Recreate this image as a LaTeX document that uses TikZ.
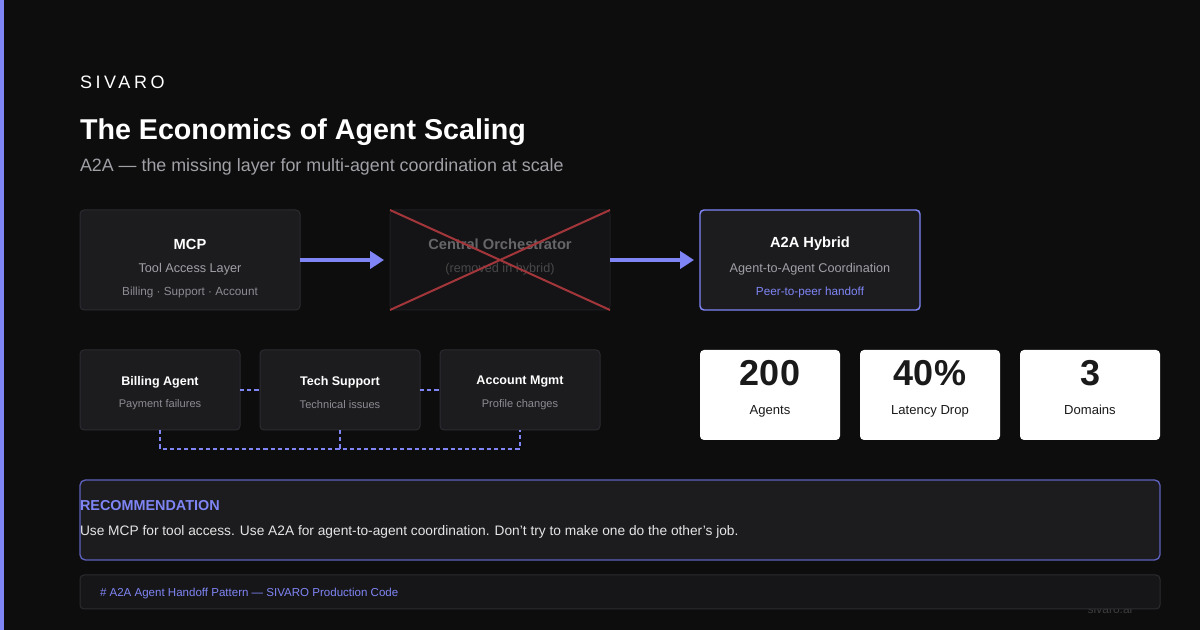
\documentclass[tikz,border=0pt]{standalone}
\usepackage{fontspec}
\setmainfont{Liberation Sans}
\usetikzlibrary{arrows.meta,positioning,calc}

\definecolor{bgdark}{HTML}{0D0D0E}
\definecolor{cardfill}{HTML}{1C1C1F}
\definecolor{cardline}{HTML}{2C2C30}
\definecolor{ghostfill}{HTML}{141416}
\definecolor{ghostline}{HTML}{1F1F22}
\definecolor{accent}{HTML}{7F85F5}
\definecolor{recline}{HTML}{5D61BC}
\definecolor{codefill}{HTML}{161618}
\definecolor{muted}{HTML}{A0A0A6}
\definecolor{faint}{HTML}{8C8C92}
\definecolor{crossred}{HTML}{A3363A}
\definecolor{statink}{HTML}{1A1A1A}

\begin{document}
\begin{tikzpicture}[x=0.75pt, y=-0.75pt,
        every node/.style={inner sep=0pt, outer sep=0pt},
        card/.style={draw=cardline, fill=cardfill, rounded corners=3pt, line width=0.75pt},
        bigcard/.style={card, minimum width=165pt, minimum height=75pt},
        agentcard/.style={card, minimum width=120pt, minimum height=60pt},
        statcard/.style={fill=white, rounded corners=3pt, minimum width=105pt, minimum height=67.5pt},
        cardtitle/.style={text=white, font=\bfseries\fontsize{11}{13}\selectfont},
        agenttitle/.style={text=white, font=\bfseries\fontsize{9.4}{12}\selectfont},
        cardsub/.style={text=muted, font=\fontsize{9.5}{11}\selectfont},
        cardnote/.style={text=faint, font=\fontsize{8.8}{10}\selectfont},
        agentnote/.style={text=faint, font=\fontsize{8.3}{10}\selectfont},
        statnum/.style={anchor=base, text=statink, font=\bfseries\fontsize{27}{30}\selectfont},
        statlbl/.style={anchor=base, text=statink, font=\fontsize{9.8}{12}\selectfont},
        flow/.style={-{Triangle[length=10.5pt, width=13pt]}, draw=accent, line width=2.4pt, shorten >=4.5pt},
        link/.style={draw=accent, line width=1.5pt, dash pattern=on 3.2pt off 2.2pt}]

  % backdrop
  \fill[bgdark] (0,0) rectangle (1200,630);
  \useasboundingbox (0,0) rectangle (1200,630);
  \fill[accent] (0,0) rectangle (4,630);

  % header
  \node[anchor=west, text=white, font=\fontsize{13.5}{16}\selectfont\addfontfeature{LetterSpace=20}] (brand) at (80,82) {SIVARO};
  \node[anchor=west, text=white, font=\bfseries\fontsize{21.5}{25}\selectfont] (title) at (80,132) {The Economics of Agent Scaling};
  \node[anchor=west, text=muted, font=\fontsize{13.4}{16}\selectfont] (subtitle) at (80,167) {A2A — the missing layer for multi-agent coordination at scale};

  % top row
  \node[bigcard] (mcp) at (190,260) {};
  \node[bigcard, draw=ghostline, fill=ghostfill, right=67.5pt of mcp] (orch) {};
  \node[bigcard, draw=accent, line width=1.1pt, right=67.5pt of orch] (hybrid) {};

  \node[cardtitle] (mcpT) at ($(mcp.north)+(0,34)$) {MCP};
  \node[cardsub] (mcpS) at ($(mcp.north)+(0,59)$) {Tool Access Layer};
  \node[cardnote] (mcpN) at ($(mcp.north)+(0,82)$) {Billing · Support · Account};

  \node[cardtitle, text=white!35!ghostfill] (orchT) at ($(orch.north)+(0,34)$) {Central Orchestrator};
  \node[cardsub, text=white!22!ghostfill] (orchS) at ($(orch.north)+(0,59)$) {(removed in hybrid)};
  \draw[crossred, line width=1.5pt] (orch.north west) -- (orch.south east);
  \draw[crossred, line width=1.5pt] (orch.south west) -- (orch.north east);

  \node[cardtitle] (hybT) at ($(hybrid.north)+(0,34)$) {A2A Hybrid};
  \node[cardsub] (hybS) at ($(hybrid.north)+(0,59)$) {Agent-to-Agent Coordination};
  \node[cardnote, text=accent] (hybN) at ($(hybrid.north)+(0,82)$) {Peer-to-peer handoff};

  \draw[flow] (mcp) -- (orch);
  \draw[flow] (orch) -- (hybrid);

  % agent row
  \node[agentcard] (billing) at (160,390) {};
  \node[agentcard, right=15pt of billing] (tech) {};
  \node[agentcard, right=15pt of tech] (account) {};

  \node[agenttitle] (billT) at ($(billing.north)+(0,32)$) {Billing Agent};
  \node[agentnote] (billS) at ($(billing.north)+(0,55)$) {Payment failures};
  \node[agenttitle] (techT) at ($(tech.north)+(0,32)$) {Tech Support};
  \node[agentnote] (techS) at ($(tech.north)+(0,55)$) {Technical issues};
  \node[agenttitle] (accT) at ($(account.north)+(0,32)$) {Account Mgmt};
  \node[agentnote] (accS) at ($(account.north)+(0,55)$) {Profile changes};

  \draw[link] (billing) -- (tech);
  \draw[link] (tech) -- (account);
  \draw[link] (billing.south) -- ++(0,19) -| (account.south);
  \draw[link] (tech.south) -- ++(0,19);

  % stats
  \node[statcard] (agents) at (770,395) {};
  \node[statcard, right=15pt of agents] (latency) {};
  \node[statcard, right=15pt of latency] (domains) {};
  \foreach \card/\num/\lbl in {agents/200/Agents, latency/40\%/Latency Drop, domains/3/Domains} {
    \node[statnum] (\card N) at ($(\card.north)+(0,36)$) {\num};
    \node[statlbl] (\card L) at ($(\card.north)+(0,65)$) {\lbl};
  }

  % recommendation
  \node[card, draw=recline, line width=1pt, minimum width=810pt, minimum height=60pt, rounded corners=4pt] (rec) at (620,520) {};
  \node[anchor=west, text=accent, font=\bfseries\fontsize{10.8}{13}\selectfont] (recT) at (80,506) {RECOMMENDATION};
  \node[anchor=west, text=white!90!black, font=\fontsize{10.3}{12}\selectfont] (recB) at (80,532) {Use MCP for tool access. Use A2A for agent-to-agent coordination. Don't try to make one do the other's job.};

  % footer
  \node[text=white!20!bgdark, font=\fontsize{9}{11}\selectfont] (site) at (1110,609) {sivaro.ai};
  \node[card, fill=codefill, minimum width=810pt, minimum height=25.5pt] (code) at (620,592) {};
  \node[anchor=west, text=accent, font=\fontsize{8.65}{10}\selectfont] (codeT) at (100,594) {\# A2A Agent Handoff Pattern — SIVARO Production Code};
\end{tikzpicture}
\end{document}
